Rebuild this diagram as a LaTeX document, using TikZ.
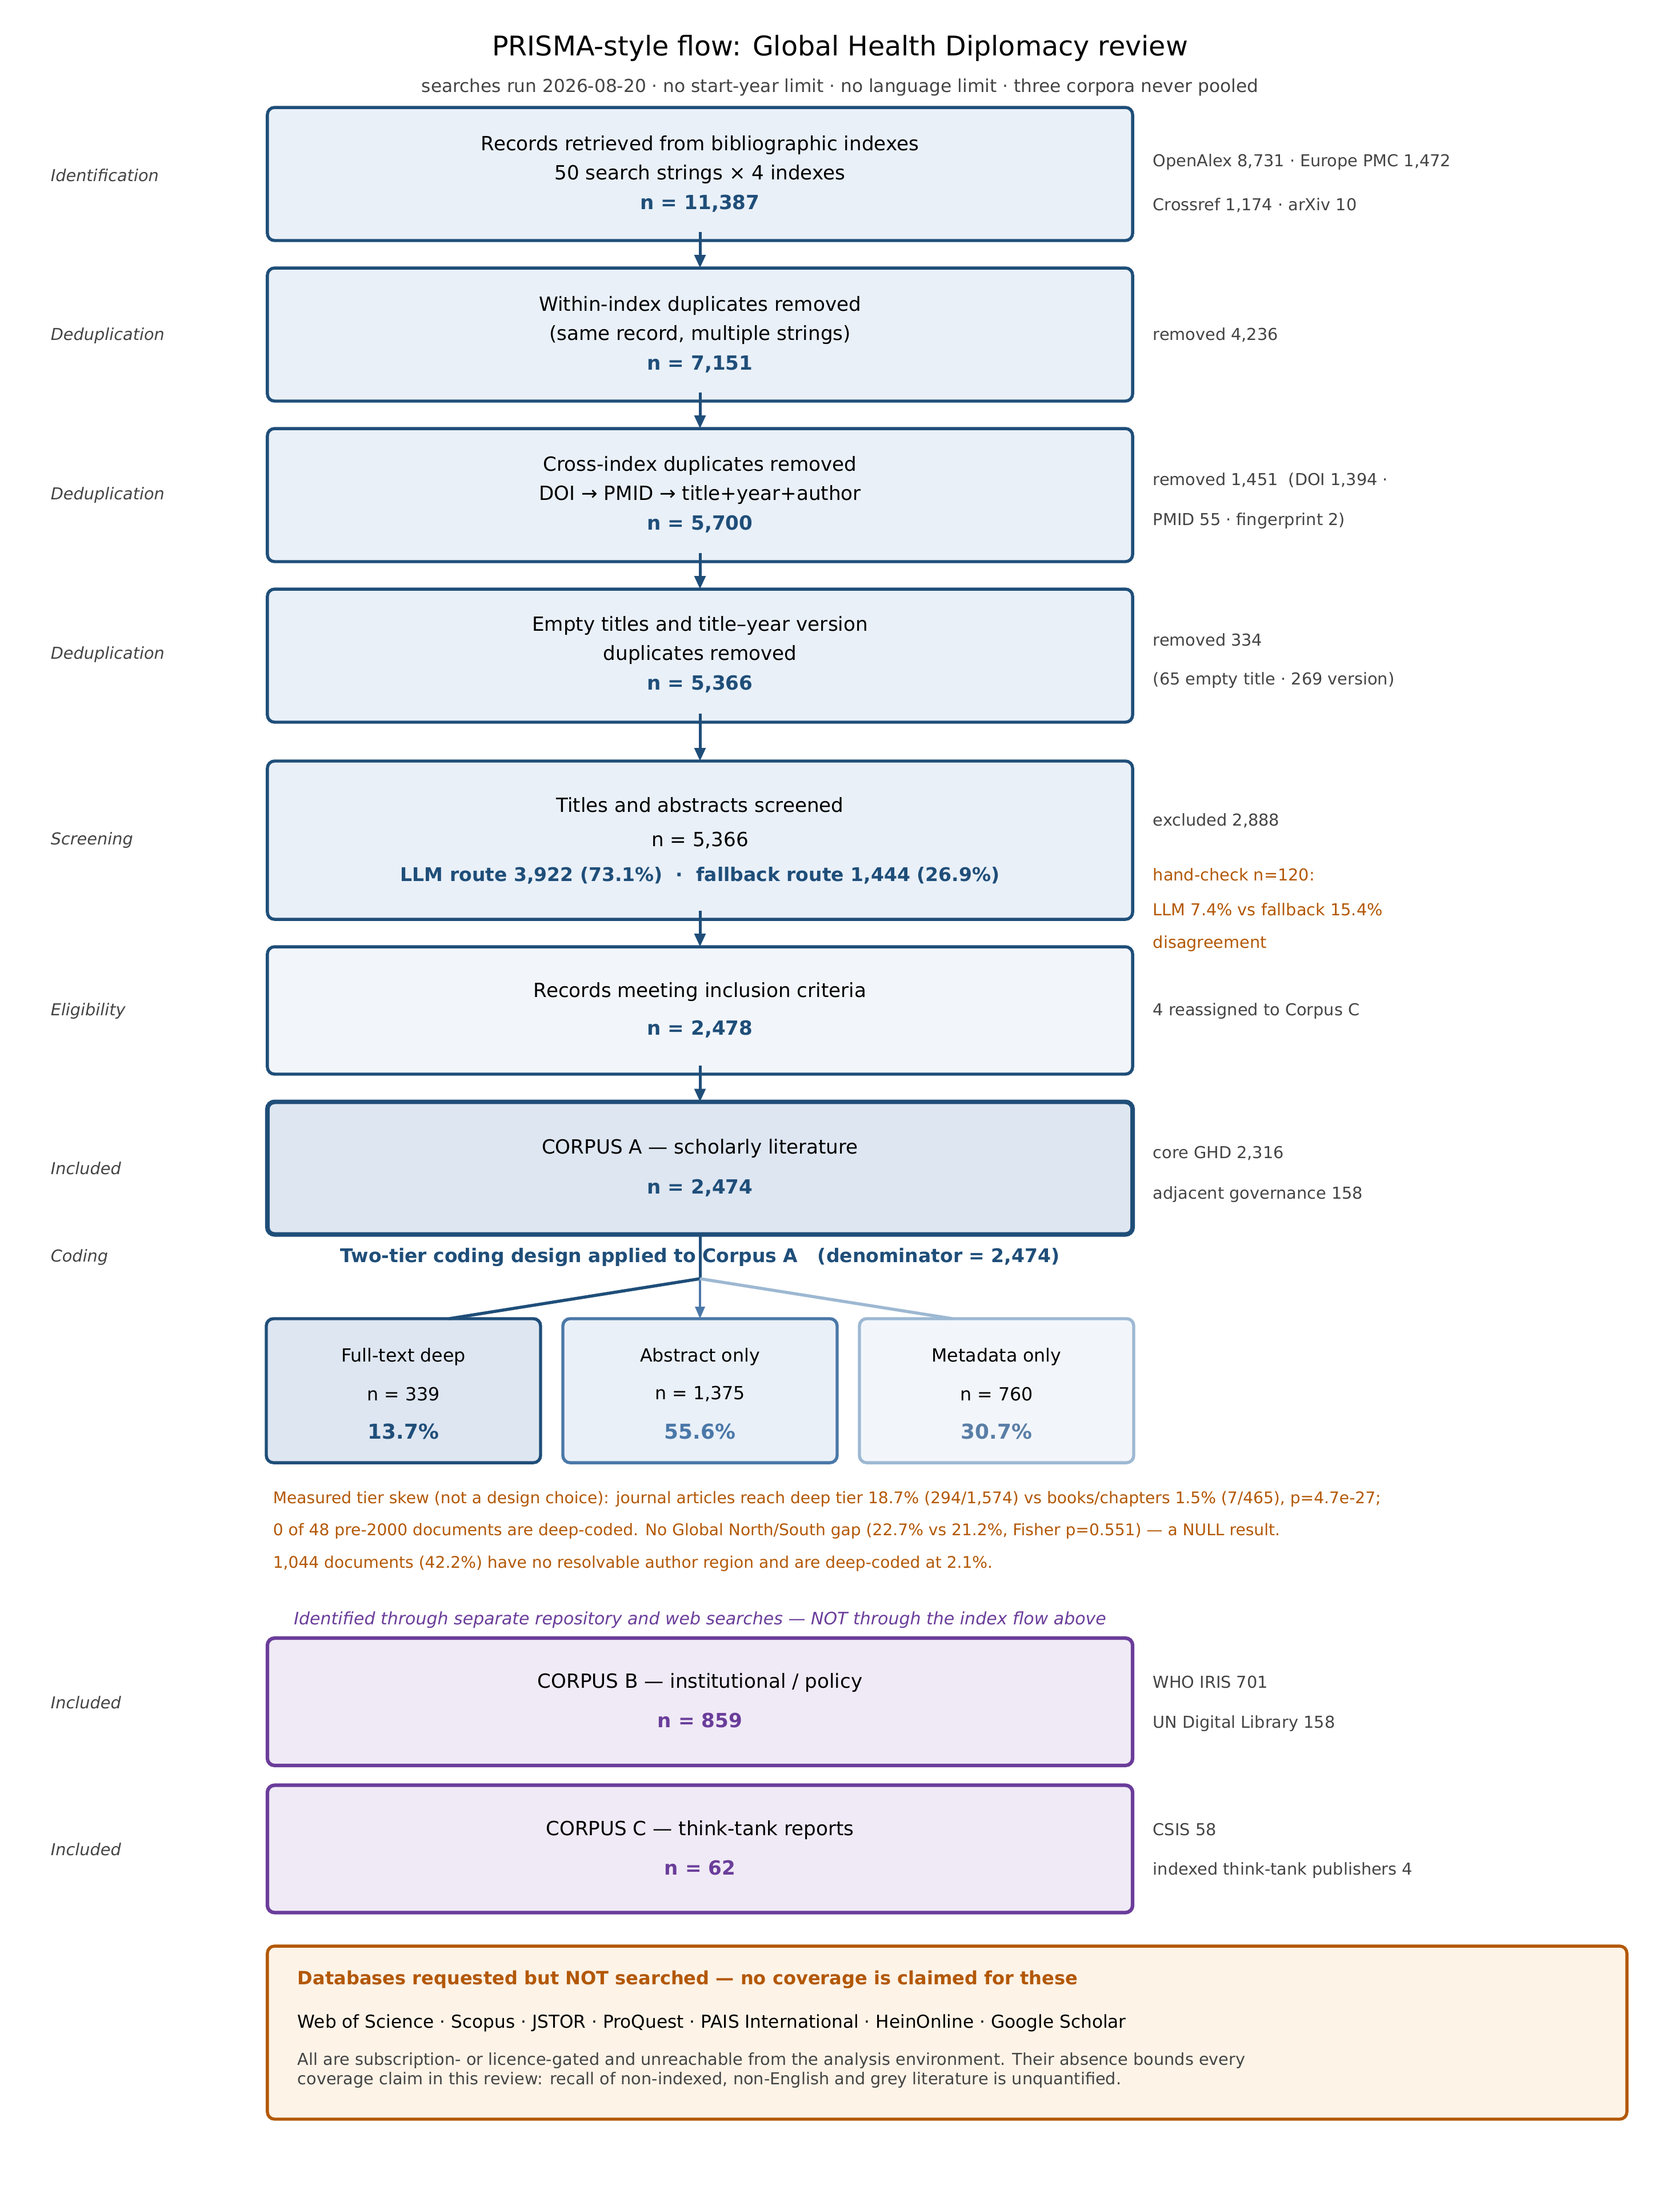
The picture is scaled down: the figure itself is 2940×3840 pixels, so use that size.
\documentclass[tikz,border=0pt]{standalone}
\usepackage{fontspec}
\setmainfont{DejaVu Sans}
\usetikzlibrary{arrows.meta}
\definecolor{navy}{HTML}{1F4E79}
\definecolor{boxfill}{HTML}{E9F0F8}
\definecolor{eligfill}{HTML}{F2F6FB}
\definecolor{corpafill}{HTML}{DEE6F1}
\definecolor{midblue}{HTML}{4A78A8}
\definecolor{ltblue}{HTML}{9DB8D2}
\definecolor{pctblue}{HTML}{5A7EA6}
\definecolor{graytxt}{HTML}{444444}
\definecolor{orng}{HTML}{B35806}
\definecolor{orngfill}{HTML}{FDF3E7}
\definecolor{purp}{HTML}{6A3D9A}
\definecolor{purpfill}{HTML}{F0EAF6}
\newcommand{\fzTitle}{\fontsize{11.4}{13.7}\selectfont}
\newcommand{\fzSub}{\fontsize{7.5}{9}\selectfont}
\newcommand{\fzBox}{\fontsize{8.2}{9.8}\selectfont}
\newcommand{\fzBoxS}{\fontsize{7.92}{9.5}\selectfont}
\newcommand{\fzNote}{\fontsize{6.9}{8.3}\selectfont}
\newcommand{\fzOr}{\fontsize{6.75}{8.1}\selectfont}
\newcommand{\fzTier}{\fontsize{7.6}{9.1}\selectfont}
\newcommand{\fzPct}{\fontsize{8.6}{10.3}\selectfont}
\begin{document}
\begin{tikzpicture}[x=0.24pt,y=-0.24pt,
  boxbase/.style={draw=navy, line width=1.3pt, fill=boxfill, rounded corners=3pt,
    inner sep=0pt, outer sep=0pt, minimum width=363.4pt},
  flowbox/.style={boxbase, minimum height=55.9pt},
  tx/.style={inner sep=0pt, yshift=-0.6pt},
  txt/.style={tx, font=\fzBox, text=black},
  ntxt/.style={tx, font=\fzBox\bfseries, text=navy},
  side/.style={tx, anchor=west, font=\fzNote, text=graytxt},
  sideor/.style={side, text=orng},
  stage/.style={tx, anchor=west, font=\fzNote\itshape, text=graytxt},
  flowarrow/.style={draw=navy, line width=1.2pt, -{Triangle[length=5.5pt,width=4.6pt]}},
  tierbox/.style={boxbase, minimum width=115.2pt, minimum height=60.5pt},
  tiertxt/.style={tx, font=\fzTier, text=black},
  pct/.style={tx, font=\fzPct\bfseries}
]
\useasboundingbox[fill=white] (0,0) rectangle (2940,3840);

% title
\node[tx, font=\fzTitle] (title) at (1470,82) {PRISMA-style flow: Global Health Diplomacy review};
\node[tx, font=\fzSub, text=graytxt] (subtitle) at (1470,150) {searches run 2026-08-20 · no start-year limit · no language limit · three corpora never pooled};

% flow boxes
\node[flowbox] (b1) at (1225,304.5) {};
\node[flowbox] (b2) at (1225,585.5) {};
\node[flowbox] (b3) at (1225,866.5) {};
\node[flowbox] (b4) at (1225,1147.5) {};
\node[boxbase, minimum height=66.5pt] (b5) at (1225,1470.5) {};
\node[boxbase, fill=eligfill, minimum height=53.5pt] (b6) at (1225,1768.5) {};
\node[boxbase, fill=corpafill, line width=1.9pt, minimum height=55.7pt] (b7) at (1225,2044.5) {};

% arrows between flow boxes
\draw[flowarrow] ([yshift=3.6pt]b1.south) -- (b2.north);
\draw[flowarrow] ([yshift=3.6pt]b2.south) -- (b3.north);
\draw[flowarrow] ([yshift=3.6pt]b3.south) -- (b4.north);
\draw[flowarrow] ([yshift=3.6pt]b4.south) -- (b5.north);
\draw[flowarrow] ([yshift=3.6pt]b5.south) -- (b6.north);
\draw[flowarrow] ([yshift=3.6pt]b6.south) -- (b7.north);

% box texts
\node[txt] (b1a) at (1225,252) {Records retrieved from bibliographic indexes};
\node[txt] (b1b) at (1225,303) {50 search strings × 4 indexes};
\node[ntxt] (b1c) at (1225,354) {n = 11,387};

\node[txt] (b2a) at (1225,533) {Within-index duplicates removed};
\node[txt] (b2b) at (1225,584) {(same record, multiple strings)};
\node[ntxt] (b2c) at (1225,635) {n = 7,151};

\node[txt] (b3a) at (1225,813) {Cross-index duplicates removed};
\node[txt] (b3b) at (1225,864) {DOI → PMID → title+year+author};
\node[ntxt] (b3c) at (1225,915) {n = 5,700};

\node[txt] (b4a) at (1225,1093) {Empty titles and title–year version};
\node[txt] (b4b) at (1225,1144) {duplicates removed};
\node[ntxt] (b4c) at (1225,1195) {n = 5,366};

\node[txt] (b5a) at (1225,1406) {Titles and abstracts screened};
\node[txt] (b5b) at (1225,1468) {n = 5,366};
\node[ntxt, font=\fzBoxS\bfseries] (b5c) at (1225,1530) {LLM route 3,922 (73.1\%)~~·~~fallback route 1,444 (26.9\%)};

\node[txt] (b6a) at (1225,1734) {Records meeting inclusion criteria};
\node[ntxt] (b6b) at (1225,1799) {n = 2,478};

\node[txt] (b7a) at (1225,2008) {CORPUS A — scholarly literature};
\node[ntxt] (b7b) at (1225,2077) {n = 2,474};

% stage labels
\node[stage] (s1) at (88,304) {Identification};
\node[stage] (s2) at (88,585) {Deduplication};
\node[stage] (s3) at (88,864) {Deduplication};
\node[stage] (s4) at (88,1143) {Deduplication};
\node[stage] (s5) at (88,1468) {Screening};
\node[stage] (s6) at (88,1767) {Eligibility};
\node[stage] (s7) at (88,2042) {Included};
\node[stage] (s8) at (88,2198) {Coding};
\node[stage] (s9) at (88,2977) {Included};
\node[stage] (s10) at (88,3234) {Included};

% side notes
\node[side] (n1a) at (2017,281) {OpenAlex 8,731 · Europe PMC 1,472};
\node[side] (n1b) at (2017,357) {Crossref 1,174 · arXiv 10};
\node[side] (n2a) at (2017,584) {removed 4,236};
\node[side] (n3a) at (2017,838) {removed 1,451~~(DOI 1,394 ·};
\node[side] (n3b) at (2017,909) {PMID 55 · fingerprint 2)};
\node[side] (n4a) at (2017,1117) {removed 334};
\node[side] (n4b) at (2017,1188) {(65 empty title · 269 version)};
\node[side] (n5a) at (2017,1434) {excluded 2,888};
\node[sideor] (n5b) at (2017,1528) {hand-check n=120:};
\node[sideor] (n5c) at (2017,1589) {LLM 7.4\% vs fallback 15.4\%};
\node[sideor] (n5d) at (2017,1649) {disagreement};
\node[side] (n6a) at (2017,1767) {4 reassigned to Corpus C};
\node[side] (n7a) at (2017,2016) {core GHD 2,316};
\node[side] (n7b) at (2017,2088) {adjacent governance 158};

% coding design
\coordinate (junc) at (1225,2238);
\draw[navy, line width=1.2pt] (b7.south) -- (junc);
\node[tx, font=\fzBoxS\bfseries, text=navy] (coding) at (1225,2198) {Two-tier coding design applied to Corpus A~~~(denominator = 2,474)};

\node[tierbox, fill=corpafill] (t1) at (706,2434) {};
\node[tierbox, draw=midblue, fill=boxfill] (t2) at (1225,2434) {};
\node[tierbox, draw=ltblue, fill=eligfill] (t3) at (1744,2434) {};

\draw[navy, line width=1.3pt] (junc) -- ([xshift=19.2pt]t1.north);
\draw[midblue, line width=0.9pt, -{Triangle[length=5pt,width=4pt]}] (junc) -- (t2.north);
\draw[ltblue, line width=1.3pt] (junc) -- ([xshift=-18.5pt]t3.north);

\node[tiertxt] (t1a) at (706,2372) {Full-text deep};
\node[tiertxt] (t1b) at (706,2437) {n = 339};
\node[pct, text=navy] (t1c) at (706,2503) {13.7\%};
\node[tiertxt] (t2a) at (1225,2372) {Abstract only};
\node[tiertxt] (t2b) at (1225,2437) {n = 1,375};
\node[pct, text=midblue] (t2c) at (1225,2503) {55.6\%};
\node[tiertxt] (t3a) at (1744,2372) {Metadata only};
\node[tiertxt] (t3b) at (1744,2437) {n = 760};
\node[pct, text=pctblue] (t3c) at (1744,2503) {30.7\%};

% orange notes
\node[sideor, font=\fzOr] (o1) at (477,2621) {Measured tier skew (not a design choice): journal articles reach deep tier 18.7\% (294/1,574) vs books/chapters 1.5\% (7/465), p=4.7e-27;};
\node[sideor, font=\fzOr] (o2) at (477,2677) {0 of 48 pre-2000 documents are deep-coded. No Global North/South gap (22.7\% vs 21.2\%, Fisher p=0.551) — a NULL result.};
\node[sideor, font=\fzOr] (o3) at (477,2734) {1,044 documents (42.2\%) have no resolvable author region and are deep-coded at 2.1\%.};

% corpora B and C
\node[tx, font=\fontsize{7.2}{8.6}\selectfont\itshape, text=purp] (sep) at (1225,2833) {Identified through separate repository and web searches — NOT through the index flow above};
\node[boxbase, draw=purp, fill=purpfill, line width=1.5pt, minimum height=53.5pt] (cb) at (1225,2978.5) {};
\node[boxbase, draw=purp, fill=purpfill, line width=1.5pt, minimum height=53.5pt] (cc) at (1225,3236) {};
\node[txt] (cba) at (1225,2943) {CORPUS B — institutional / policy};
\node[ntxt, text=purp] (cbb) at (1225,3009) {n = 859};
\node[txt] (cca) at (1225,3201) {CORPUS C — think-tank reports};
\node[ntxt, text=purp] (ccb) at (1225,3267) {n = 62};
\node[side] (nba) at (2017,2941) {WHO IRIS 701};
\node[side] (nbb) at (2017,3014) {UN Digital Library 158};
\node[side] (nca) at (2017,3199) {CSIS 58};
\node[side] (ncb) at (2017,3271) {indexed think-tank publishers 4};

% not searched box
\node[boxbase, draw=orng, fill=orngfill, line width=1.3pt, minimum width=571pt, minimum height=72.7pt] (ns) at (1657.5,3557.5) {};
\node[tx, anchor=west, font=\fontsize{7.7}{9.2}\selectfont\bfseries, text=orng] (nsa) at (520,3462) {Databases requested but NOT searched — no coverage is claimed for these};
\node[tx, anchor=west, font=\fontsize{7.49}{9}\selectfont, text=black] (nsb) at (520,3538) {Web of Science · Scopus · JSTOR · ProQuest · PAIS International · HeinOnline · Google Scholar};
\node[tx, anchor=west, font=\fzNote, text=graytxt] (nsc) at (520,3604) {All are subscription- or licence-gated and unreachable from the analysis environment. Their absence bounds every};
\node[tx, anchor=west, font=\fzNote, text=graytxt] (nsd) at (520,3638) {coverage claim in this review: recall of non-indexed, non-English and grey literature is unquantified.};
\end{tikzpicture}
\end{document}
